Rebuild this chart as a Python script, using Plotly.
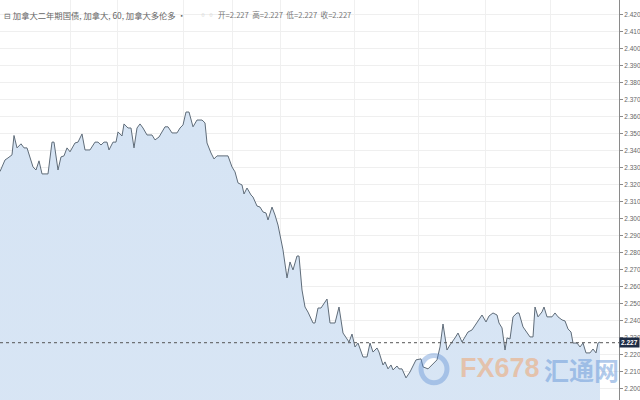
import plotly.graph_objects as go

# time index (chart position units) and 60-min close values
t = [0, 5, 8, 12, 14, 17, 21, 24, 27, 30, 33, 36, 39, 42, 48, 52, 54, 58, 61, 64,
     67, 70, 75, 78, 82, 85, 90, 95, 98, 101, 104, 107, 109, 113, 116, 118, 122, 124, 128, 131,
     134, 137, 140, 143, 147, 152, 155, 159, 165, 168, 172, 177, 180, 183, 186, 189, 193, 197, 202, 205,
     207, 211, 214, 217, 228, 232, 235, 238, 242, 244, 247, 251, 253, 257, 260, 263, 266, 268, 272, 275,
     278, 283, 287, 290, 293, 297, 299, 302, 305, 308, 313, 315, 318, 321, 324, 327, 330, 335, 339, 343,
     347, 349, 352, 355, 358, 363, 367, 370, 373, 377, 379, 383, 385, 388, 391, 393, 397, 399, 402, 406,
     410, 416, 421, 423, 428, 432, 437, 440, 443, 447, 450, 455, 458, 462, 465, 468, 472, 477, 482, 486,
     489, 493, 497, 499, 502, 505, 507, 510, 513, 517, 519, 523, 527, 530, 533, 535, 538, 542, 544, 547,
     552, 555, 558, 562, 565, 568, 571, 573, 577, 580, 583, 586, 590, 593, 596, 598, 600]
close = [2.3277, 2.3345, 2.3357, 2.3375, 2.3489, 2.3416, 2.3440, 2.3416, 2.3416, 2.3357,
         2.3304, 2.3286, 2.3340, 2.3263, 2.3263, 2.3450, 2.3450, 2.3286, 2.3363, 2.3369,
         2.3416, 2.3393, 2.3445, 2.3450, 2.3498, 2.3404, 2.3404, 2.3450, 2.3450, 2.3433,
         2.3450, 2.3450, 2.3404, 2.3450, 2.3450, 2.3510, 2.3486, 2.3557, 2.3533, 2.3533,
         2.3416, 2.3533, 2.3557, 2.3533, 2.3492, 2.3492, 2.3463, 2.3480, 2.3540, 2.3540,
         2.3504, 2.3504, 2.3533, 2.3551, 2.3627, 2.3627, 2.3540, 2.3580, 2.3580, 2.3563,
         2.3445, 2.3386, 2.3351, 2.3369, 2.3369, 2.3304, 2.3275, 2.3210, 2.3198, 2.3145,
         2.3180, 2.3139, 2.3127, 2.3074, 2.3068, 2.3039, 2.3033, 2.2992, 2.3068, 2.3021,
         2.2962, 2.2816, 2.2651, 2.2745, 2.2698, 2.2780, 2.2780, 2.2580, 2.2480, 2.2450,
         2.2386, 2.2386, 2.2474, 2.2474, 2.2504, 2.2527, 2.2386, 2.2386, 2.2480, 2.2327,
         2.2292, 2.2274, 2.2321, 2.2245, 2.2268, 2.2186, 2.2186, 2.2268, 2.2215, 2.2239,
         2.2215, 2.2139, 2.2157, 2.2116, 2.2139, 2.2110, 2.2133, 2.2116, 2.2116, 2.2063,
         2.2098, 2.2169, 2.2175, 2.2128, 2.2116, 2.2139, 2.2169, 2.2245, 2.2380, 2.2227,
         2.2257, 2.2298, 2.2327, 2.2274, 2.2304, 2.2333, 2.2345, 2.2386, 2.2433, 2.2392,
         2.2427, 2.2445, 2.2433, 2.2386, 2.2357, 2.2227, 2.2298, 2.2292, 2.2422, 2.2445,
         2.2445, 2.2363, 2.2327, 2.2304, 2.2304, 2.2480, 2.2422, 2.2451, 2.2480, 2.2422,
         2.2422, 2.2445, 2.2422, 2.2404, 2.2398, 2.2351, 2.2333, 2.2268, 2.2268, 2.2245,
         2.2268, 2.2210, 2.2210, 2.2233, 2.2210, 2.2268, 2.2274]

last_value = 2.227
y_ticks = [round(2.200 + 0.01 * i, 3) for i in range(23)]
x_grid = [70, 117, 183, 232, 280, 354, 418, 485, 550]

title_main = "⊟ 加拿大二年期国债, 加拿大, 60, 加拿大多伦多 ·"
title_ohlc = "开=2.227  高=2.227  低=2.227  收=2.227"

fig = go.Figure()
fig.add_trace(go.Scatter(
    x=t, y=close, mode="lines",
    line=dict(color="#5f6c79", width=1),
    fill="tozeroy",
    fillgradient=dict(type="vertical",
                      colorscale=[[0, "rgba(238,244,251,1)"], [1, "rgba(214,228,244,1)"]]),
    hoverinfo="skip", showlegend=False,
))

fig.add_hline(y=last_value, line=dict(color="#555555", width=1, dash="dot"))

fig.update_layout(
    width=640, height=400,
    margin=dict(l=0, r=21, t=0, b=0, autoexpand=False),
    paper_bgcolor="white", plot_bgcolor="white",
    font=dict(family="Noto Sans CJK SC, Noto Sans, sans-serif", color="#666666"),
    xaxis=dict(range=[0, 619], tickvals=x_grid, showticklabels=False,
               showgrid=True, gridcolor="#f0f0f0", gridwidth=1, zeroline=False,
               ticks="", showline=False, automargin=False),
    yaxis=dict(side="right", range=[2.1933, 2.4286], tickvals=y_ticks,
               tickformat=".3f", showgrid=True, gridcolor="#efefef", gridwidth=1,
               zeroline=False, showline=True, linecolor="#8a8a8a", linewidth=1,
               ticks="outside", ticklen=3, tickcolor="#8a8a8a", automargin=False,
               ticklabelstandoff=0,
               tickfont=dict(size=6.5, color="#666666", family="Liberation Sans, Arial")),
)

fig.add_annotation(xref="paper", yref="paper", x=0.003, y=1 - 15 / 400,
                   xanchor="left", yanchor="middle", showarrow=False,
                   text=title_main, font=dict(size=8.3, color="#666666"))
fig.add_annotation(xref="paper", yref="paper", x=197 / 619, y=1 - 15 / 400,
                   xanchor="left", yanchor="middle", showarrow=False,
                   text="▫▫", font=dict(size=8, color="#bbbbbb"))
fig.add_annotation(xref="paper", yref="paper", x=216 / 619, y=1 - 15 / 400,
                   xanchor="left", yanchor="middle", showarrow=False,
                   text=title_ohlc, font=dict(size=7.6, color="#777777"))

# last value label
fig.add_annotation(xref="paper", yref="y", x=1.0, y=last_value, xanchor="left",
                   yanchor="middle", showarrow=False, text="<b>2.227</b>",
                   bgcolor="#1f2d45", font=dict(size=6.5, color="white",
                                                family="Liberation Sans, Arial"),
                   borderpad=1, xshift=0)

# watermark
fig.add_shape(type="circle", xref="x", yref="y", x0=421, x1=447, y0=2.2035, y1=2.2195,
              line=dict(color="rgba(90,140,210,0.4)", width=5), layer="above")
fig.add_annotation(xref="x", yref="y", x=458, y=2.2120, xanchor="left", yanchor="middle",
                   showarrow=False, text="<b>FX678</b>",
                   font=dict(size=27, color="rgba(240,160,100,0.5)",
                             family="Liberation Sans, Arial"))
fig.add_annotation(xref="x", yref="y", x=542, y=2.2115, xanchor="left", yanchor="middle",
                   showarrow=False, text="<b>汇通网</b>",
                   font=dict(size=25, color="rgba(100,150,215,0.5)"))

fig.write_html("out.html", config={"displayModeBar": False},
               post_script="document.body.style.margin='0';document.body.style.overflow='hidden';")
